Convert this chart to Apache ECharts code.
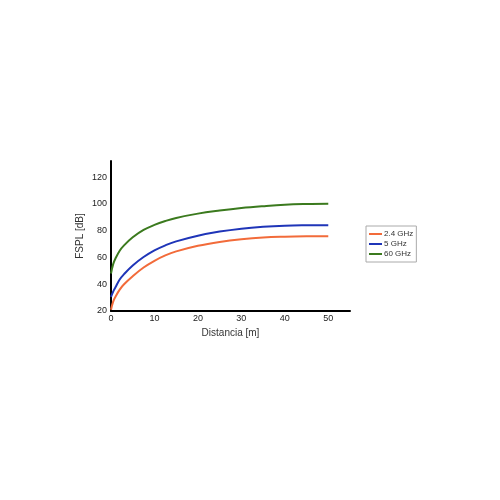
<!DOCTYPE html>
<html>
<head>
<meta charset="utf-8">
<script src="https://cdn.jsdelivr.net/npm/echarts@6/dist/echarts.min.js"></script>
<style>html,body{margin:0;padding:0;background:#fff}#c{width:500px;height:500px}</style>
</head>
<body>
<div id="c"></div>
<script>
var distances = [0, 0.5, 1, 2, 3, 5, 7.5, 10, 12.5, 15, 20, 25, 30, 35, 40, 45, 50];
var fspl24 = [21, 27, 30.5, 36, 40, 46, 52.5, 57.5, 61.5, 64.5, 68.7, 71.6, 73.6, 74.9, 75.5, 75.8, 75.9];
var fspl5 = [30.5, 34.5, 37.5, 43.5, 47.5, 54, 60.3, 65.3, 69, 72, 76.2, 79.3, 81.5, 82.9, 83.7, 84, 84.1];
var fspl60 = [48, 55, 59, 65, 69, 75, 80.5, 84.3, 87.2, 89.5, 92.7, 95, 96.9, 98.3, 99.4, 99.9, 100.1];
var seriesNames = ['2.4 GHz', '5 GHz', '60 GHz'];
var xTicks = [0, 10, 20, 30, 40, 50];
var yTicks = [20, 40, 60, 80, 100, 120];

function pairs(vals) { return distances.map(function (d, i) { return [d, vals[i]]; }); }
var colors = ['#f26b3a', '#1f35b8', '#3b7a1e'];
var font = 'Liberation Sans, Arial, sans-serif';
var chart = echarts.init(document.getElementById('c'));
function line(i, vals) {
  return { name: seriesNames[i], type: 'line', data: pairs(vals), smooth: 0.4,
    showSymbol: false, symbol: 'none', lineStyle: { color: colors[i], width: 2 }, itemStyle: { color: colors[i] } };
}
chart.setOption({
  animation: false,
  grid: { left: 111, right: 150, top: 161, bottom: 189, containLabel: false },
  xAxis: {
    type: 'value', min: 0, max: 55, interval: 10,
    name: 'Distancia [m]', nameLocation: 'middle', nameGap: 17,
    nameTextStyle: { fontFamily: font, fontSize: 10, color: '#333' },
    axisLine: { show: true, lineStyle: { color: '#000', width: 2 } },
    axisTick: { show: false },
    splitLine: { show: false },
    axisLabel: { fontFamily: font, fontSize: 9, color: '#222', margin: 3,
      formatter: function (v) { return xTicks.indexOf(v) >= 0 ? String(v) : ''; } }
  },
  yAxis: {
    type: 'value', min: 20, max: 132, interval: 20,
    name: 'FSPL [dB]', nameLocation: 'middle', nameGap: 26, nameRotate: 90,
    nameTextStyle: { fontFamily: font, fontSize: 10, color: '#333' },
    axisLine: { show: true, lineStyle: { color: '#000', width: 2 } },
    axisTick: { show: false },
    splitLine: { show: false },
    axisLabel: { fontFamily: font, fontSize: 9, color: '#222', margin: 4,
      formatter: function (v) { return yTicks.indexOf(v) >= 0 ? String(v) : ''; } }
  },
  legend: {
    orient: 'vertical', left: 366, top: 226,
    data: seriesNames,
    icon: 'rect', itemWidth: 13, itemHeight: 2, itemGap: 2,
    padding: [4, 3, 4, 3],
    borderColor: '#aaa', borderWidth: 1,
    textStyle: { fontFamily: font, fontSize: 8, color: '#333', padding: [0, 0, 0, -3] }
  },
  series: [line(0, fspl24), line(1, fspl5), line(2, fspl60)]
});
</script>
</body>
</html>
